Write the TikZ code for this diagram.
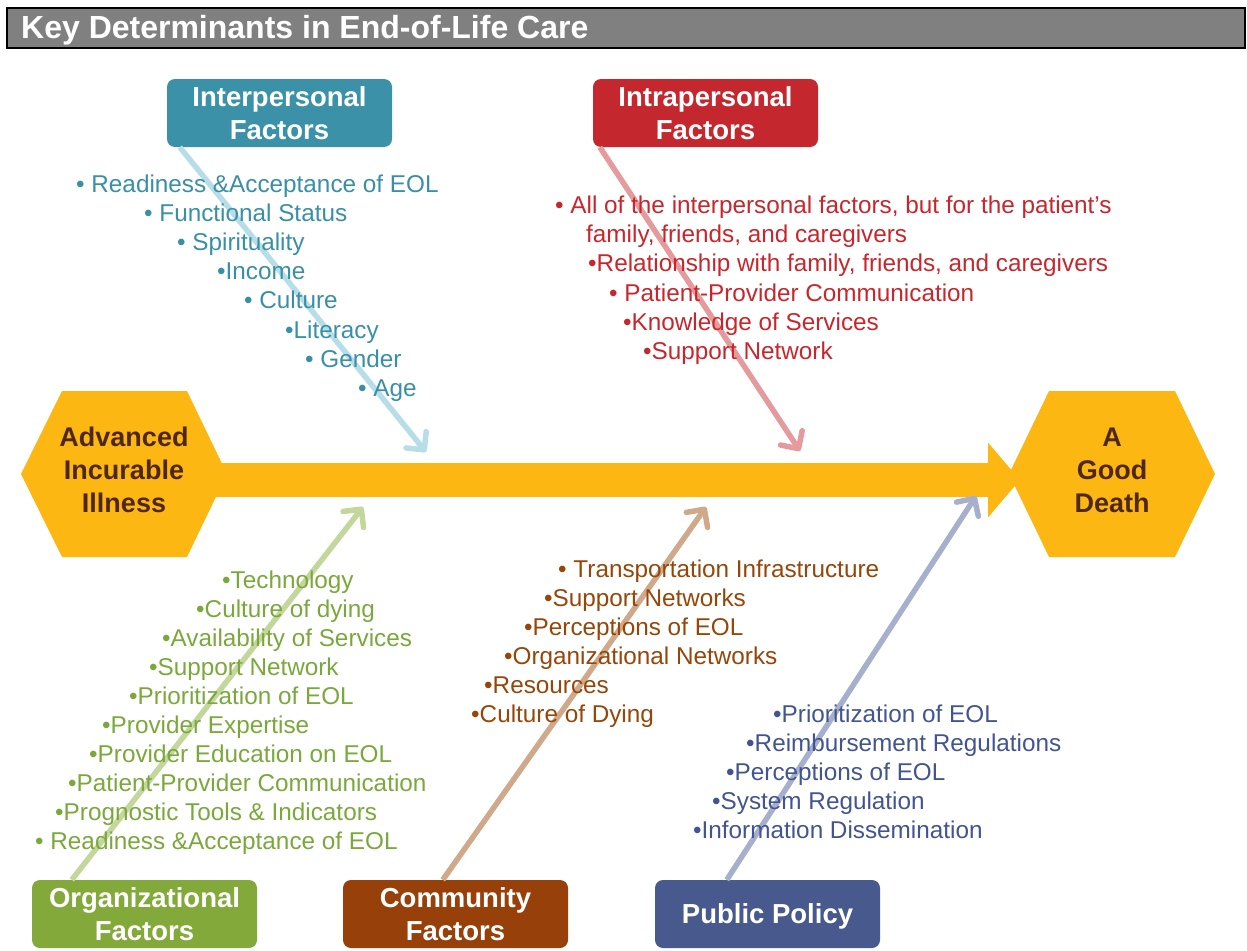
\documentclass[tikz,border=0pt]{standalone}
\usepackage{fontspec}
\setmainfont{Liberation Sans}
\usetikzlibrary{arrows.meta}

\definecolor{gold}{RGB}{253,183,19}
\definecolor{bark}{RGB}{78,40,20}
\definecolor{titlegray}{RGB}{128,128,128}
\definecolor{tealbox}{RGB}{58,145,168}
\definecolor{tealtxt}{RGB}{56,143,166}
\definecolor{tealline}{RGB}{183,221,232}
\definecolor{redbox}{RGB}{196,40,46}
\definecolor{redtxt}{RGB}{200,38,44}
\definecolor{redline}{RGB}{229,155,157}
\definecolor{greenbox}{RGB}{130,169,58}
\definecolor{greentxt}{RGB}{122,168,58}
\definecolor{greenline}{RGB}{195,214,155}
\definecolor{brownbox}{RGB}{152,64,10}
\definecolor{browntxt}{RGB}{150,70,8}
\definecolor{brownline}{RGB}{208,168,138}
\definecolor{bluebox}{RGB}{71,89,141}
\definecolor{bluetxt}{RGB}{66,84,145}
\definecolor{blueline}{RGB}{166,176,204}

\begin{document}
\begin{tikzpicture}[x=1pt, y=-1pt,
    factor/.style={rounded corners=8pt, minimum width=225pt, minimum height=68pt, inner sep=0pt, text=white, align=center, font=\bfseries\fontsize{27.5}{33}\selectfont},
    hexlabel/.style={text=bark, align=center, inner sep=0pt, font=\bfseries\fontsize{27}{33}\selectfont},
    item/.style={anchor=base west, inner sep=0pt, font=\fontsize{24.3}{29}\selectfont},
    bone/.style={line width=5.5pt, ->},
    >={Straight Barb[length=13pt, width=26pt, round]}]
    \useasboundingbox (0,0) rectangle (1247,950);

    % title bar
    \draw[line width=2.5pt, fill=titlegray] (7,8) rectangle (1245,48);
    \node[anchor=base west, inner sep=0pt, text=white, font=\bfseries\fontsize{32}{38}\selectfont] (title) at (21,38) {Key Determinants in End-of-Life Care};

    % spine and the two ends
    \fill[gold] (21,474) -- (62,391) -- (187,391) -- (227,474) -- (187,557) -- (62,557) -- cycle;
    \fill[gold] (1009,474) -- (1049,391) -- (1175,391) -- (1215,474) -- (1175,557) -- (1049,557) -- cycle;
    \coordinate (tail) at (124,480);
    \coordinate (head) at (1020,480);
    \draw[gold, line width=34pt, -{Triangle[length=32pt, width=73pt]}] (tail) -- (head);
    \node[hexlabel] (illness) at (124,470) {Advanced\\Incurable\\Illness};
    \node[hexlabel] (death) at (1112,470) {A\\Good\\Death};

    % factor boxes
    \node[factor, fill=tealbox] (inter) at (279.5,113) {Interpersonal\\Factors};
    \node[factor, fill=redbox] (intra) at (705.5,113) {Intrapersonal\\Factors};
    \node[factor, fill=greenbox] (org) at (144.5,914) {Organizational\\Factors};
    \node[factor, fill=brownbox] (comm) at (455.5,914) {Community\\Factors};
    \node[factor, fill=bluebox, text depth=0pt] (policy) at (767.5,914) {Public Policy};

    % bones
    \coordinate (interTip) at (426,452);
    \coordinate (intraTip) at (800,451);
    \coordinate (orgTip) at (363,507);
    \coordinate (commTip) at (706,507);
    \coordinate (policyTip) at (976,496);
    \draw[bone, tealline] ([xshift=13pt]inter.south west) -- (interTip);
    \draw[bone, redline] ([xshift=7pt]intra.south west) -- (intraTip);
    \draw[bone, greenline] ([xshift=40pt]org.north west) -- (orgTip);
    \draw[bone, brownline] ([xshift=100pt]comm.north west) -- (commTip);
    \draw[bone, blueline] ([xshift=72pt]policy.north west) -- (policyTip);

    % interpersonal
    \node[item, text=tealtxt] (inter1) at (76,192) {• Readiness \&Acceptance of EOL};
    \node[item, text=tealtxt] (inter2) at (144,221) {• Functional Status};
    \node[item, text=tealtxt] (inter3) at (177,250) {• Spirituality};
    \node[item, text=tealtxt] (inter4) at (217,279) {•Income};
    \node[item, text=tealtxt] (inter5) at (244,308) {• Culture};
    \node[item, text=tealtxt] (inter6) at (285,338) {•Literacy};
    \node[item, text=tealtxt] (inter7) at (305,367) {• Gender};
    \node[item, text=tealtxt] (inter8) at (358,396) {• Age};

    % intrapersonal
    \node[item, text=redtxt] (intra1) at (555,213) {• All of the interpersonal factors, but for the patient’s};
    \node[item, text=redtxt] (intra2) at (586,242) {family, friends, and caregivers};
    \node[item, text=redtxt] (intra3) at (588,271) {•Relationship with family, friends, and caregivers};
    \node[item, text=redtxt] (intra4) at (609,301) {• Patient-Provider Communication};
    \node[item, text=redtxt] (intra5) at (623,330) {•Knowledge of Services};
    \node[item, text=redtxt] (intra6) at (643,359) {•Support Network};

    % organizational
    \node[item, text=greentxt] (org1) at (222,588) {•Technology};
    \node[item, text=greentxt] (org2) at (196,617) {•Culture of dying};
    \node[item, text=greentxt] (org3) at (162,646) {•Availability of Services};
    \node[item, text=greentxt] (org4) at (149,675) {•Support Network};
    \node[item, text=greentxt] (org5) at (129,704) {•Prioritization of EOL};
    \node[item, text=greentxt] (org6) at (102,733) {•Provider Expertise};
    \node[item, text=greentxt] (org7) at (89,762) {•Provider Education on EOL};
    \node[item, text=greentxt] (org8) at (68,791) {•Patient-Provider Communication};
    \node[item, text=greentxt] (org9) at (55,820) {•Prognostic Tools \& Indicators};
    \node[item, text=greentxt] (org10) at (35,849) {• Readiness \&Acceptance of EOL};

    % community
    \node[item, text=browntxt] (comm1) at (558,577) {• Transportation Infrastructure};
    \node[item, text=browntxt] (comm2) at (544,606) {•Support Networks};
    \node[item, text=browntxt] (comm3) at (524,635) {•Perceptions of EOL};
    \node[item, text=browntxt] (comm4) at (504,664) {•Organizational Networks};
    \node[item, text=browntxt] (comm5) at (484,693) {•Resources};
    \node[item, text=browntxt] (comm6) at (471,722) {•Culture of Dying};

    % public policy
    \node[item, text=bluetxt] (policy1) at (773,722) {•Prioritization of EOL};
    \node[item, text=bluetxt] (policy2) at (746,751) {•Reimbursement Regulations};
    \node[item, text=bluetxt] (policy3) at (726,780) {•Perceptions of EOL};
    \node[item, text=bluetxt] (policy4) at (712,809) {•System Regulation};
    \node[item, text=bluetxt] (policy5) at (693,838) {•Information Dissemination};
\end{tikzpicture}
\end{document}
